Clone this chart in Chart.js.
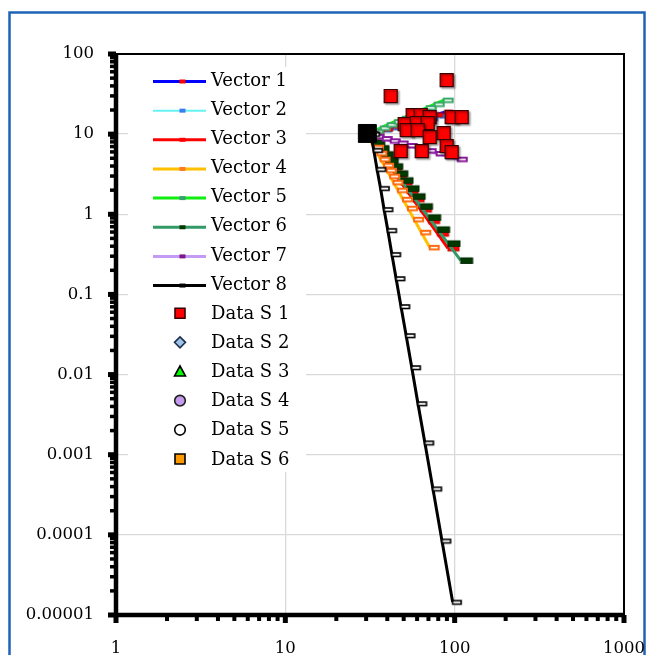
<!DOCTYPE html>
<html><head><meta charset="utf-8">
<script src="https://cdn.jsdelivr.net/npm/chart.js@4/dist/chart.umd.min.js"></script>
<style>html,body{margin:0;padding:0;background:#fff;}#wrap{width:651px;height:655px;position:relative;}</style>
</head><body><div id="wrap"><canvas id="c" width="651" height="655"></canvas></div>
<script>
// ---- tick labels ----
const xTickLabels = ['1', '10', '100', '1000'];
const yTickLabels = ['0.00001', '0.0001', '0.001', '0.01', '0.1', '1', '10', '100'];
const vectorNames = ['Vector 1', 'Vector 2', 'Vector 3', 'Vector 4', 'Vector 5', 'Vector 6', 'Vector 7', 'Vector 8'];
const dataNames = ['Data S 1', 'Data S 2', 'Data S 3', 'Data S 4', 'Data S 5', 'Data S 6'];

// ---- vector series ----
const v1x = [30.3, 34.2, 38.6, 44.3, 50.7, 58.1, 66.5, 76.2, 87.3];
const v1y = [10, 10.75, 11.58, 12.55, 13.6, 14.75, 16.0, 17.4, 18.8];
const v2x = [30.3, 33.7, 38.1, 43.1, 48.7, 55.0, 62.2, 71.2, 81.6];
const v2y = [10, 10.6, 11.3, 12.0, 12.85, 13.7, 14.6, 15.6, 16.8];
const v3x = [30.3, 32.8, 34.8, 37.0, 39.4, 41.9, 44.9, 48.2, 52.3, 56.8, 62.8, 70.2, 79.3, 91.3];
const v3y = [10, 7.85, 6.57, 5.48, 4.57, 3.80, 3.08, 2.50, 1.96, 1.54, 1.145, 0.822, 0.572, 0.376];
const v4x = [30.3, 33.4, 34.9, 36.5, 38.3, 39.8, 41.6, 43.5, 46.2, 49.5, 53.0, 57.6, 63.5, 71.2];
const v4y = [10, 6.88, 5.79, 4.87, 4.10, 3.55, 2.99, 2.51, 2.0, 1.54, 1.19, 0.866, 0.596, 0.387];
const v5x = [30.3, 33.3, 36.6, 40.2, 44.3, 49.4, 55.0, 61.3, 68.4, 76.2, 86.1];
const v5y = [10, 10.9, 11.95, 13.1, 14.3, 15.8, 17.5, 19.4, 21.4, 23.7, 26.6];
const v6x = [30.3, 32.8, 34.8, 37.0, 39.4, 41.9, 44.9, 48.2, 52.3, 56.8, 62.8, 70.2, 79.3, 91.3, 108.5];
const v6y = [10, 7.94, 6.68, 5.62, 4.73, 3.98, 3.25, 2.66, 2.11, 1.68, 1.26, 0.917, 0.649, 0.434, 0.266];
const v7x = [30.3, 33.7, 37.6, 41.9, 46.7, 52.8, 59.7, 68.3, 78.3, 89.7, 104.2];
const v7y = [10, 9.39, 8.81, 8.27, 7.76, 7.22, 6.72, 6.22, 5.74, 5.31, 4.87];
const v8x = [32.0, 33.3, 34.8, 36.5, 38.3, 40.3, 42.6, 45.1, 48.2, 51.7, 55.8, 60.7, 66.7, 74.4, 84.2, 97.3];
const v8y = [10, 6.3, 3.65, 2.11, 1.15, 0.63, 0.316, 0.158, 0.0708, 0.0307, 0.01224, 0.00434, 0.00141, 0.000376, 0.000084, 0.0000145];

// ---- measured data ----
const s1x = [89.7, 41.9, 56.5, 63.0, 71.2, 96.0, 110, 50.7, 59.7, 69.3, 52.1, 60.5, 71.2, 86.1, 89.7, 96.0, 48.0, 63.9];
const s1y = [47.3, 29.9, 17.3, 17.3, 16.3, 16.3, 16.3, 13.3, 13.7, 13.7, 11.2, 11.2, 9.17, 10.3, 7.08, 5.96, 6.13, 6.13];
const originX = [30.5];
const originY = [10.2];

const zip = (xs, ys) => xs.map((v, i) => ({x: v, y: ys[i]}));

function dashMarker(w, h, fill, stroke, lw) {
  const c = document.createElement('canvas');
  const pad = Math.ceil(lw) + 1;
  c.width = 2 * (w + pad); c.height = h + 2 * pad;
  const g = c.getContext('2d');
  const x0 = w + pad, y0 = pad;
  g.fillStyle = fill; g.fillRect(x0, y0, w, h);
  if (lw > 0) { g.strokeStyle = stroke; g.lineWidth = lw; g.strokeRect(x0, y0, w, h); }
  return c;
}

const vecStyles = [
  {line: '#0000FF', lw: 3, mk: dashMarker(8, 4, '#FF0000', '#C00000', 1), lg: '#FF0000', order: 8},
  {line: '#66F2F2', lw: 2, mk: dashMarker(8, 4, '#3C7DF0', '#2060D0', 1), lg: '#3C7DF0', order: 9},
  {line: '#FF0000', lw: 3, mk: dashMarker(11, 5, '#FF0000', '#C00000', 1), lg: '#FF0000', order: 6},
  {line: '#FFC000', lw: 3, mk: dashMarker(9, 3.5, '#FFFFFF', '#FF6A10', 2), lg: '#FF7A20', order: 4},
  {line: '#11EE11', lw: 3, mk: dashMarker(9, 3.5, '#FFFFFF', '#3AA86A', 2), lg: '#3AA070', order: 7},
  {line: '#339966', lw: 3, mk: dashMarker(12, 5.5, '#003A00', '#002800', 1), lg: '#003A00', order: 5},
  {line: '#C49AF5', lw: 3, mk: dashMarker(9, 3.5, '#FFFFFF', '#8A1A9A', 2), lg: '#7A1A8A', order: 3},
  {line: '#000000', lw: 3, mk: dashMarker(8.5, 3.5, '#FFFFFF', '#000000', 1.6), lg: '#000000', order: 2}
];
const vecData = [zip(v1x, v1y), zip(v2x, v2y), zip(v3x, v3y), zip(v4x, v4y), zip(v5x, v5y), zip(v6x, v6y), zip(v7x, v7y), zip(v8x, v8y)];

const dataStyles = [
  {shape: 'square', fill: '#FF0000', stroke: '#3A0000'},
  {shape: 'diamond', fill: '#9DC3E6', stroke: '#1F3050'},
  {shape: 'triangle', fill: '#00FF00', stroke: '#000000'},
  {shape: 'circle', fill: '#C59BEF', stroke: '#202020'},
  {shape: 'circle', fill: '#FFFFFF', stroke: '#000000'},
  {shape: 'square', fill: '#FF9900', stroke: '#000000'}
];

const datasets = [];
vectorNames.forEach((n, i) => {
  const s = vecStyles[i];
  datasets.push({
    label: n, data: vecData[i], showLine: true, borderColor: s.line, borderWidth: s.lw,
    pointStyle: s.mk, pointRadius: 5, pointHoverRadius: 5, order: s.order, fill: false, tension: 0
  });
});
const pstyleMap = {square: 'rect', diamond: 'rectRot', triangle: 'triangle', circle: 'circle'};
dataNames.forEach((n, i) => {
  const s = dataStyles[i];
  datasets.push({
    label: n, data: i === 0 ? zip(s1x, s1y) : [], showLine: false,
    pointStyle: pstyleMap[s.shape], pointRadius: 9.2, pointBackgroundColor: s.fill,
    pointBorderColor: s.stroke, pointBorderWidth: 1.2, order: 0, shadow: i === 0
  });
});
datasets.push({label: '_origin', data: zip(originX, originY), showLine: false, pointStyle: 'rect',
  pointRadius: 12.7, pointBackgroundColor: '#000', pointBorderColor: '#000', pointBorderWidth: 1, order: 1});

const isPow10 = v => v > 0 && Math.abs(Math.log10(v) - Math.round(Math.log10(v))) < 1e-7;
const isIntSig = v => { const e = Math.floor(Math.log10(v) + 1e-9); const s = v / Math.pow(10, e); return Math.abs(s - Math.round(s)) < 1e-6; };
const FONT = '"DejaVu Serif", "Liberation Serif", serif';

const shadowPlugin = {
  id: 'shadow',
  beforeDatasetDraw(chart, args) {
    if (chart.data.datasets[args.index].shadow) {
      const c = chart.ctx; c.save();
      c.shadowColor = 'rgba(0,0,0,0.35)'; c.shadowOffsetX = 1.5; c.shadowOffsetY = 1.5; c.shadowBlur = 2;
    }
  },
  afterDatasetDraw(chart, args) {
    if (chart.data.datasets[args.index].shadow) chart.ctx.restore();
  }
};

const framePlugin = {
  id: 'frame',
  beforeDraw(chart) {
    const c = chart.ctx; c.save();
    c.fillStyle = '#fff'; c.fillRect(0, 0, chart.width, chart.height);
    c.strokeStyle = '#1F63B6'; c.lineWidth = 2.5; c.strokeRect(9.5, 12.5, 635, 700);
    c.restore();
  },
  afterDraw(chart) {
    const c = chart.ctx, a = chart.chartArea, xs = chart.scales.x, ys = chart.scales.y;
    c.save();
    // legend box
    c.fillStyle = '#fff'; c.fillRect(128, 67, 178, 405);
    const rowY = i => 80 + 29.15 * i;
    c.font = '18px ' + FONT; c.fillStyle = '#000'; c.textBaseline = 'middle'; c.textAlign = 'left';
    vectorNames.forEach((n, i) => {
      const s = vecStyles[i], y = rowY(i) + 1.5;
      c.strokeStyle = s.line; c.lineWidth = s.lw;
      c.beginPath(); c.moveTo(153, y); c.lineTo(206, y); c.stroke();
      c.fillStyle = s.lg; c.fillRect(179.5, y - 2, 6, 4);
      c.fillStyle = '#000'; c.fillText(n, 211, rowY(i) + 1);
    });
    dataNames.forEach((n, j) => {
      const i = j + 8, s = dataStyles[j], y = rowY(i), x = 180;
      c.fillStyle = s.fill; c.strokeStyle = s.stroke; c.lineWidth = 1.6;
      c.beginPath();
      if (s.shape === 'square') c.rect(x - 5, y - 5, 10, 10);
      else if (s.shape === 'diamond') { c.moveTo(x, y - 5.5); c.lineTo(x + 5.5, y); c.lineTo(x, y + 5.5); c.lineTo(x - 5.5, y); c.closePath(); }
      else if (s.shape === 'triangle') { c.moveTo(x, y - 5.5); c.lineTo(x + 5.5, y + 4.5); c.lineTo(x - 5.5, y + 4.5); c.closePath(); }
      else c.arc(x, y, 5.3, 0, Math.PI * 2);
      c.fill(); c.stroke();
      c.fillStyle = '#000'; c.fillText(n, 211, y + 1);
    });
    // frame & axes
    c.strokeStyle = '#000'; c.lineCap = 'butt';
    const ln = (x1, y1, x2, y2, w) => { c.lineWidth = w; c.beginPath(); c.moveTo(x1, y1); c.lineTo(x2, y2); c.stroke(); };
    ln(a.left, a.top, a.right + 1, a.top, 2);
    ln(a.right, a.top, a.right, a.bottom, 2);
    ys.ticks.forEach(t => {
      const p = ys.getPixelForValue(t.value);
      if (isPow10(t.value)) ln(a.left - 8, p, a.left, p, 5); else ln(a.left - 6, p, a.left, p, 3.5);
    });
    xs.ticks.forEach(t => {
      const p = xs.getPixelForValue(t.value);
      if (isPow10(t.value)) ln(p, a.bottom, p, a.bottom + 8, 5); else ln(p, a.bottom, p, a.bottom + 6, 4);
    });
    ln(a.left, a.top - 1, a.left, a.bottom + 2, 4.5);
    ln(a.left - 2, a.bottom, a.right + 1, a.bottom, 4.5);
    c.restore();
  }
};

new Chart(document.getElementById('c'), {
  type: 'scatter',
  data: {datasets},
  options: {
    responsive: false, animation: false, devicePixelRatio: 1,
    layout: {padding: {top: 54, right: 27, left: 0, bottom: 0}},
    plugins: {legend: {display: false}, tooltip: {enabled: false}},
    scales: {
      x: {
        type: 'logarithmic', min: 1, max: 1000, position: 'bottom',
        afterBuildTicks: s => { s.ticks = s.ticks.filter(t => isIntSig(t.value)); },
        afterFit: s => { s.height = 40; s.paddingLeft = 0; s.paddingRight = 0; },
        border: {display: false},
        grid: {drawTicks: false, lineWidth: 1.3, color: ctx => (ctx.tick && isPow10(ctx.tick.value)) ? '#D9D9D9' : 'rgba(0,0,0,0)'},
        ticks: {autoSkip: false, maxRotation: 0, padding: 24, color: '#000', font: {family: FONT, size: 16.5},
          callback: v => isPow10(v) ? xTickLabels[Math.round(Math.log10(v))] : ''}
      },
      y: {
        type: 'logarithmic', min: 0.00001, max: 100, position: 'left',
        afterBuildTicks: s => { s.ticks = s.ticks.filter(t => isIntSig(t.value)); },
        afterFit: s => { s.width = 116; s.paddingTop = 0; s.paddingBottom = 0; },
        border: {display: false},
        grid: {drawTicks: false, lineWidth: 1.3, color: ctx => (ctx.tick && isPow10(ctx.tick.value)) ? '#D9D9D9' : 'rgba(0,0,0,0)'},
        ticks: {autoSkip: false, padding: 22, color: '#000', font: {family: FONT, size: 16.5},
          callback: v => isPow10(v) ? yTickLabels[Math.round(Math.log10(v)) + 5] : ''}
      }
    }
  },
  plugins: [framePlugin, shadowPlugin]
});
</script></body></html>
